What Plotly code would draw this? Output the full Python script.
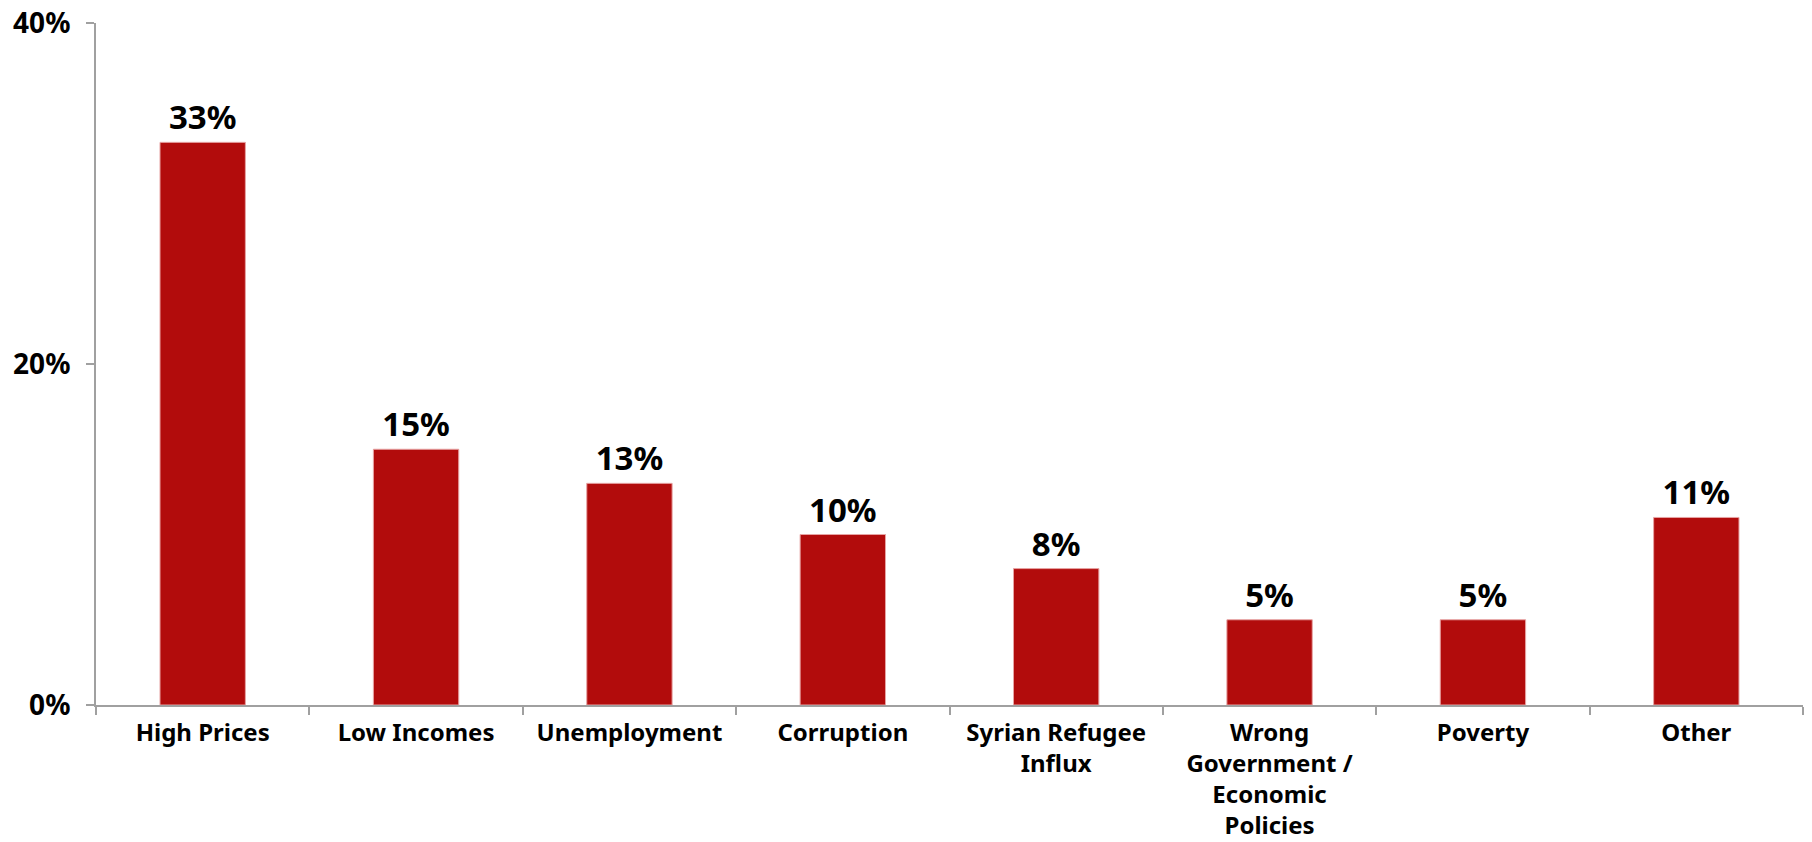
import plotly.graph_objects as go

categories = ["High Prices", "Low Incomes", "Unemployment", "Corruption",
              "Syrian Refugee<br>Influx", "Wrong<br>Government /<br>Economic<br>Policies",
              "Poverty", "Other"]
values = [33, 15, 13, 10, 8, 5, 5, 11]
y_ticks = [0, 20, 40]

FONT = "Noto Sans"

fig = go.Figure(go.Bar(
    x=categories,
    y=values,
    marker=dict(color="#B20C0C", line=dict(color="#E7A3A3", width=1)),
    text=[f"{v}%" for v in values],
    textposition="outside",
    textfont=dict(family=FONT, size=33, color="#000000"),
    cliponaxis=False,
))

fig.update_traces(texttemplate="<b>%{text}</b>")

fig.update_layout(
    width=1812, height=842,
    margin=dict(l=96, r=9, t=23, b=137),
    plot_bgcolor="white", paper_bgcolor="white",
    bargap=0.6,
    showlegend=False,
    font=dict(family=FONT, color="#000000"),
)

fig.update_yaxes(
    range=[0, 40], tickvals=y_ticks, ticktext=[f"<b>{v}%</b>" for v in y_ticks],
    showgrid=False, zeroline=False, automargin=False,
    showline=True, linecolor="#A0A0A0", linewidth=2,
    ticks="outside", ticklen=8, tickcolor="#A0A0A0", tickwidth=2,
    tickfont=dict(family=FONT, size=28, color="#000000"),
    ticklabelstandoff=10,
    ticklabeloverflow="allow",
)

fig.update_xaxes(
    showgrid=False, zeroline=False, automargin=False,
    showline=True, linecolor="#A0A0A0", linewidth=2,
    ticks="outside", ticklen=8, tickcolor="#A0A0A0", tickwidth=2,
    tickson="boundaries",
    tickfont=dict(family=FONT, size=24, color="#000000"),
    tickangle=0,
    ticklabelstandoff=5,
    ticklabeloverflow="allow",
)

fig.update_xaxes(ticktext=[f"<b>{c}</b>" for c in categories], tickvals=categories)

fig.write_html("out.html", config={"displayModeBar": False},
               post_script="document.body.style.margin='0';")
